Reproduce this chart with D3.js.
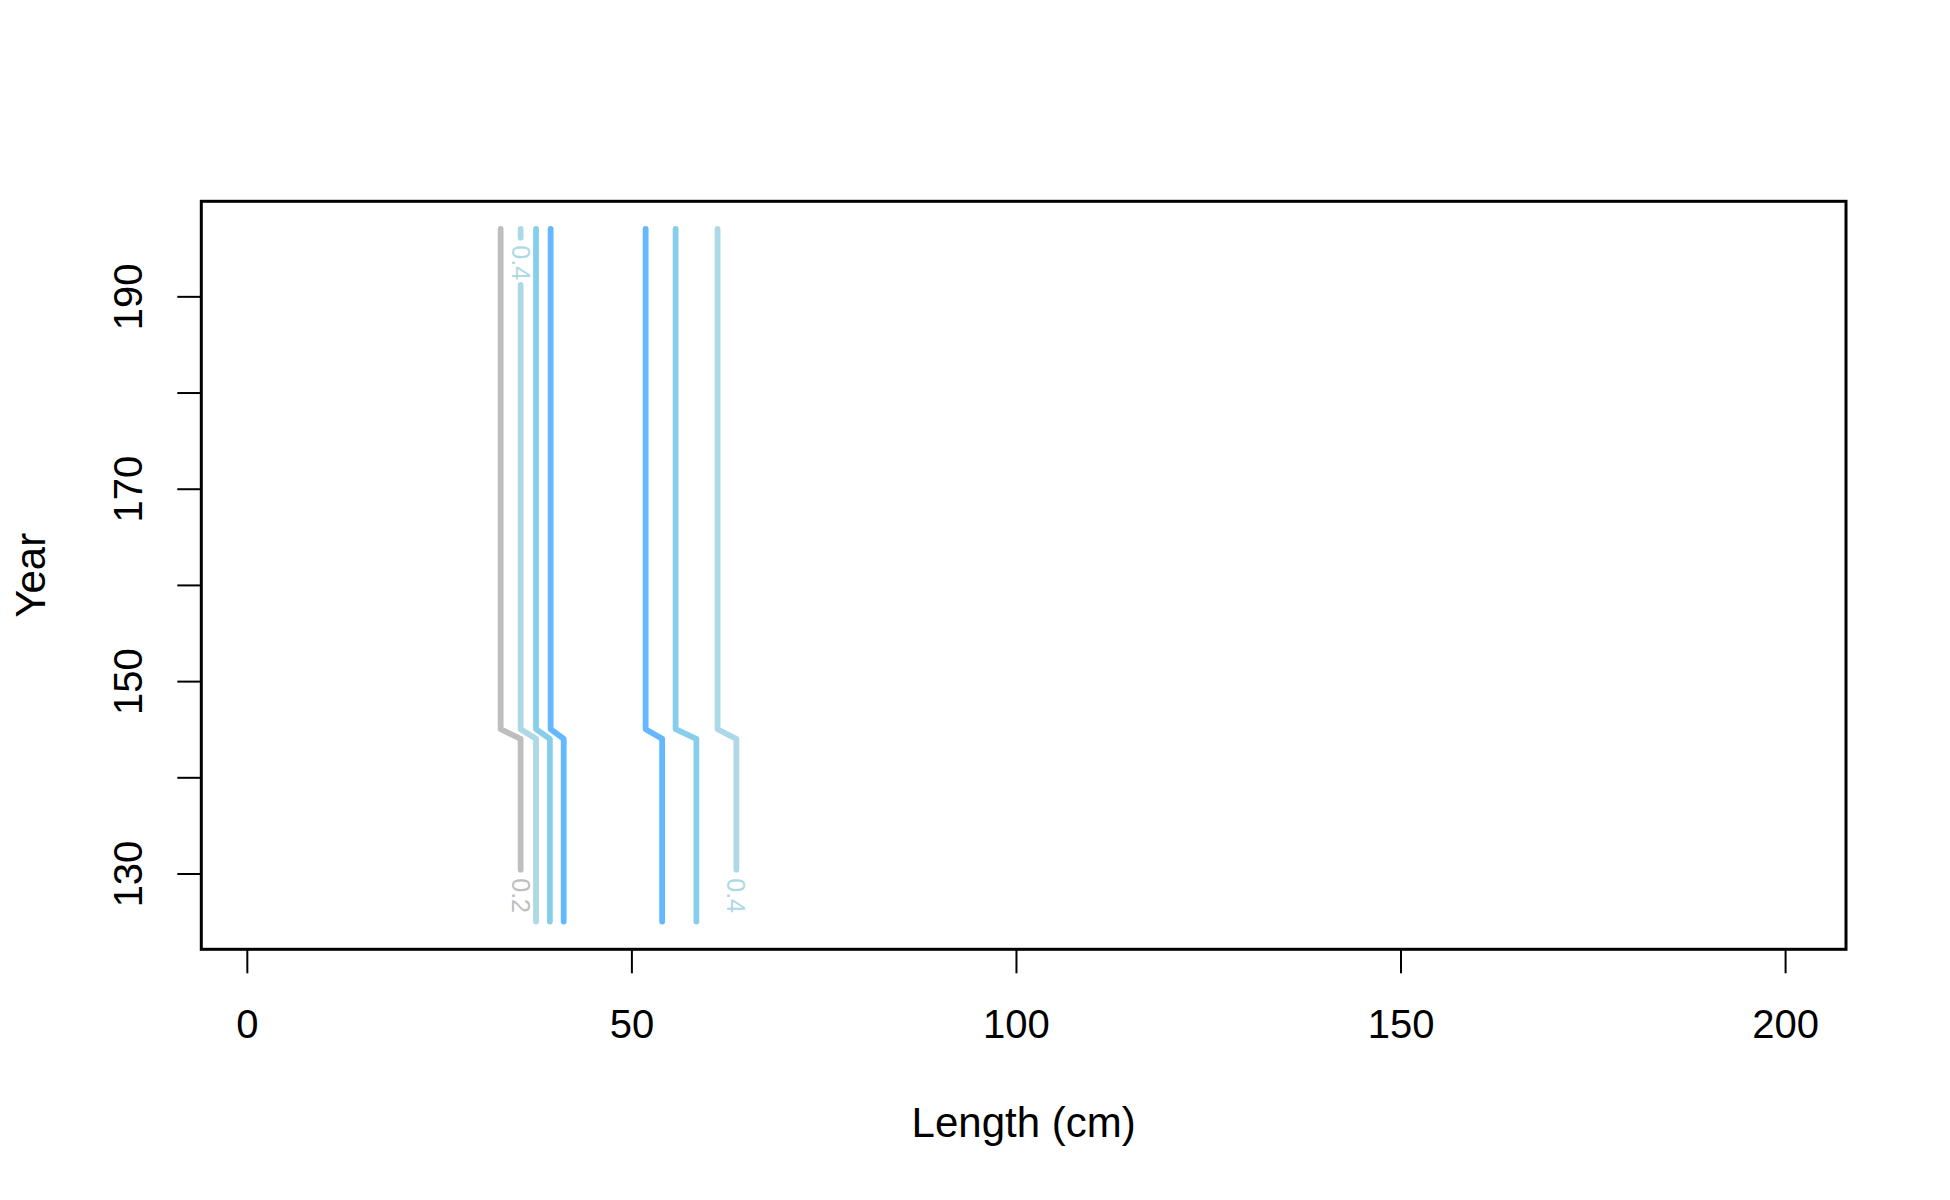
<!DOCTYPE html>
<html>
<head>
<meta charset="utf-8">
<script src="https://cdn.jsdelivr.net/npm/d3@7"></script>
<style>
  html, body { margin: 0; padding: 0; background: #ffffff; }
  svg { display: block; }
  text { font-family: "Liberation Sans", Arial, Helvetica, sans-serif; }
</style>
</head>
<body>
<script>
// ---------- data ----------
const xTicks = [0, 50, 100, 150, 200];
const yTicks = [130, 140, 150, 160, 170, 180, 190];
const yTickLabels = ["130", "", "150", "", "170", "", "190"];
const lengthRange = [2, 200];
const yearRange = [125, 197];

// contour lines (left to right): level, colour, length above the step, length below the step
const contourLevels = [0.2, 0.4, 0.6, 0.8, 0.8, 0.6, 0.4];
const contourColors = ["#BEBEBE", "#ADD8E6", "#87CEEB", "#63B8FF", "#63B8FF", "#87CEEB", "#ADD8E6"];
const lengthAbove = [33.0, 35.6, 37.6, 39.5, 51.85, 55.75, 61.2];   // years 145-197
const lengthBelow = [35.6, 37.6, 39.4, 41.2, 54.0, 58.45, 63.65];  // years 125-144
const stepYears = [145, 144];

// contour labels: which line, label text, centre year, gap (from, to)
const labelLine = [1, 0, 6];
const labelText = ["0.4", "0.2", "0.4"];
const labelYear = [193.5, 127.7, 127.7];
const labelGapFrom = [191.2, 125, 125];
const labelGapTo = [196.1, 130.4, 130.4];

// ---------- layout ----------
const W = 1950, H = 1200;
const P = { left: 201.3, right: 1846, top: 201.3, bottom: 949.3 };
const FS = 40;
const FST = 42;

const svg = d3.select("body").append("svg").attr("width", W).attr("height", H);

const padX = 0.04 * (lengthRange[1] - lengthRange[0]);
const padY = 0.04 * (yearRange[1] - yearRange[0]);
const x = d3.scaleLinear().domain([lengthRange[0] - padX, lengthRange[1] + padX]).range([P.left, P.right]);
const y = d3.scaleLinear().domain([yearRange[0] - padY, yearRange[1] + padY]).range([P.bottom, P.top]);

// ---------- contours ----------
function splitByGaps(pts, gaps) {
  let segs = [];
  let cur = [];
  const inGap = yr => gaps.some(g => yr > g[0] + 1e-9 && yr < g[1] - 1e-9);
  const bounds = gaps.flatMap(g => g);
  let dense = [];
  for (let i = 0; i < pts.length; i++) {
    dense.push(pts[i]);
    if (i < pts.length - 1) {
      const a = pts[i], b = pts[i + 1];
      const ins = bounds.filter(v => v < a[1] && v > b[1]).sort((p, q) => q - p);
      ins.forEach(v => {
        const t = (a[1] - v) / (a[1] - b[1]);
        dense.push([a[0] + t * (b[0] - a[0]), v]);
      });
    }
  }
  for (let i = 0; i < dense.length; i++) {
    const p = dense[i];
    if (i > 0) {
      const mid = (dense[i - 1][1] + p[1]) / 2;
      if (inGap(mid)) {
        if (cur.length > 1) segs.push(cur);
        cur = [p];
        continue;
      }
    }
    cur.push(p);
  }
  if (cur.length > 1) segs.push(cur);
  return segs;
}

const line = d3.line().x(d => x(d[0])).y(d => y(d[1]));
const gC = svg.append("g");

contourLevels.forEach((lev, i) => {
  const pts = [
    [lengthAbove[i], yearRange[1]],
    [lengthAbove[i], stepYears[0]],
    [lengthBelow[i], stepYears[1]],
    [lengthBelow[i], yearRange[0]]
  ];
  const gaps = [];
  labelLine.forEach((li, k) => { if (li === i) gaps.push([labelGapFrom[k], labelGapTo[k]]); });
  splitByGaps(pts, gaps).forEach(seg => {
    gC.append("path")
      .attr("d", line(seg))
      .attr("fill", "none")
      .attr("stroke", contourColors[i])
      .attr("stroke-width", 5.8)
      .attr("stroke-linecap", "round")
      .attr("stroke-linejoin", "round");
  });
});

labelLine.forEach((li, k) => {
  const yr = labelYear[k];
  const len = yr >= stepYears[0] ? lengthAbove[li] : lengthBelow[li];
  gC.append("text")
    .attr("transform", `translate(${x(len)},${y(yr)}) rotate(90)`)
    .attr("text-anchor", "middle")
    .attr("dy", "0.36em")
    .attr("font-size", 25)
    .attr("fill", contourColors[li])
    .text(labelText[k]);
});

// ---------- axes ----------
const xAxis = svg.append("g")
  .attr("transform", `translate(0,${P.bottom})`)
  .call(d3.axisBottom(x).tickValues(xTicks).tickSize(24).tickPadding(36).tickFormat(d3.format("d")));
xAxis.select(".domain").remove();
xAxis.selectAll(".tick line").attr("stroke", "#000").attr("stroke-width", 2);
xAxis.selectAll(".tick text").attr("font-size", FS).attr("fill", "#000")
  .attr("font-family", '"Liberation Sans", Arial, Helvetica, sans-serif');

const yAxis = svg.append("g")
  .attr("transform", `translate(${P.left},0)`)
  .call(d3.axisLeft(y).tickValues(yTicks).tickSize(24).tickFormat((d, i) => yTickLabels[i]));
yAxis.select(".domain").remove();
yAxis.selectAll(".tick line").attr("stroke", "#000").attr("stroke-width", 2);
yAxis.selectAll(".tick text")
  .attr("x", null).attr("dy", null)
  .attr("transform", "translate(-59,0) rotate(-90)")
  .attr("text-anchor", "middle")
  .attr("font-size", FS).attr("fill", "#000")
  .attr("font-family", '"Liberation Sans", Arial, Helvetica, sans-serif');

// plot box
svg.append("rect")
  .attr("x", P.left).attr("y", P.top)
  .attr("width", P.right - P.left).attr("height", P.bottom - P.top)
  .attr("fill", "none").attr("stroke", "#000").attr("stroke-width", 3);

// axis titles
svg.append("text")
  .attr("x", (P.left + P.right) / 2).attr("y", 1137)
  .attr("text-anchor", "middle").attr("font-size", FST).attr("fill", "#000")
  .text("Length (cm)");

svg.append("text")
  .attr("transform", `translate(45,${(P.top + P.bottom) / 2}) rotate(-90)`)
  .attr("text-anchor", "middle").attr("font-size", FST).attr("fill", "#000")
  .text("Year");
</script>
</body>
</html>
